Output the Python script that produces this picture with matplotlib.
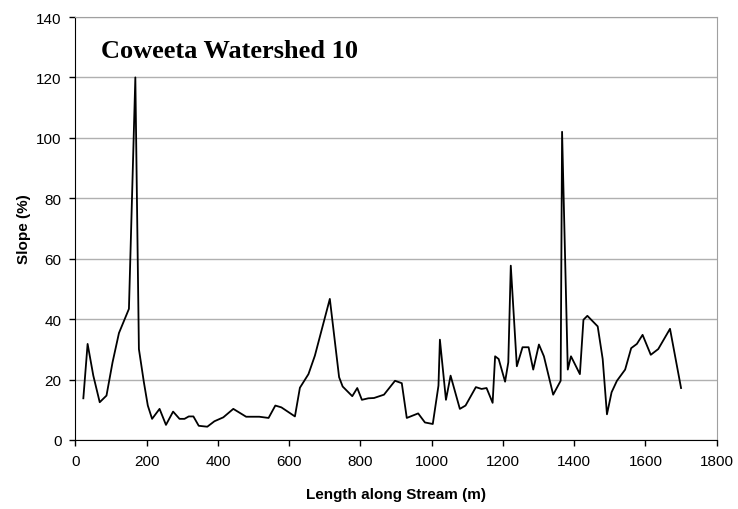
import matplotlib.pyplot as plt

# Channel slope profile, Coweeta Watershed 10
length_m = [22, 34, 50, 68, 87, 104, 122, 150, 168, 178, 192, 203, 215, 236,
            254, 274, 292, 306, 318, 331, 346, 370, 390, 415, 443, 479, 516,
            542, 561, 578, 616, 630, 654, 672, 714, 740, 750, 777, 791, 804,
            822, 838, 866, 897, 916, 930, 962, 981, 1003, 1019, 1023, 1040,
            1053, 1079, 1095, 1124, 1140, 1154, 1171, 1178, 1188, 1206, 1215,
            1222, 1239, 1255, 1272, 1285, 1301, 1315, 1341, 1362, 1366, 1382,
            1391, 1416, 1426, 1437, 1466, 1480, 1492, 1505, 1520, 1543, 1560,
            1576, 1592, 1615, 1636, 1669, 1700]
slope_pct = [13.8, 31.8, 21.3, 12.5, 14.7, 25.7, 35.4, 43.4, 120.0, 30.1, 19.1,
             11.4, 7.0, 10.3, 5.0, 9.4, 7.0, 7.0, 7.8, 7.8, 4.7, 4.4, 6.2, 7.5,
             10.3, 7.7, 7.7, 7.3, 11.4, 10.8, 7.8, 17.3, 21.8, 27.9, 46.7, 20.8,
             17.7, 14.5, 17.2, 13.3, 13.8, 13.9, 15.0, 19.6, 18.8, 7.3, 8.8, 5.8,
             5.3, 18.0, 33.2, 13.3, 21.3, 10.3, 11.4, 17.5, 16.9, 17.2, 12.3,
             27.7, 26.8, 19.3, 25.7, 57.7, 24.4, 30.7, 30.7, 23.3, 31.6, 27.7,
             15.0, 19.6, 102.0, 23.3, 27.7, 21.8, 39.8, 41.1, 37.6, 26.8, 8.5,
             15.8, 19.6, 23.3, 30.4, 31.8, 34.8, 28.2, 30.1, 36.8, 17.2]

x_ticks = list(range(0, 1801, 200))
y_ticks = list(range(0, 141, 20))

fig = plt.figure(figsize=(7.38, 5.1), dpi=100)
ax = fig.add_axes([0.1023, 0.1353, 0.8688, 0.8294])

ax.plot(length_m, slope_pct, color='black', linewidth=1.3)

ax.set_xlim(0, 1800)
ax.set_ylim(0, 140)
ax.set_xticks(x_ticks)
ax.set_yticks(y_ticks)

# light horizontal gridlines, grey frame on top/right
ax.grid(axis='y', color='#b0b0b0', linewidth=1.0)
ax.set_axisbelow(True)
ax.spines['top'].set_color('#a0a0a0')
ax.spines['right'].set_color('#a0a0a0')
ax.spines['left'].set_color('black')
ax.spines['bottom'].set_color('black')
ax.tick_params(direction='out', length=4, width=1, color='black',
               labelsize=11, pad=6)
for lbl in ax.get_xticklabels() + ax.get_yticklabels():
    lbl.set_family('Liberation Sans')

ax.set_xlabel('Length along Stream (m)', family='Liberation Sans',
              fontsize=11, fontweight='bold', labelpad=14)
ax.set_ylabel('Slope (%)', family='Liberation Sans',
              fontsize=11, fontweight='bold', labelpad=4)

ax.text(0.04, 0.92, 'Coweeta Watershed 10', transform=ax.transAxes,
        family='Liberation Serif', fontsize=19, fontweight='bold',
        va='center', ha='left')

fig.savefig('out.png', dpi=100)
